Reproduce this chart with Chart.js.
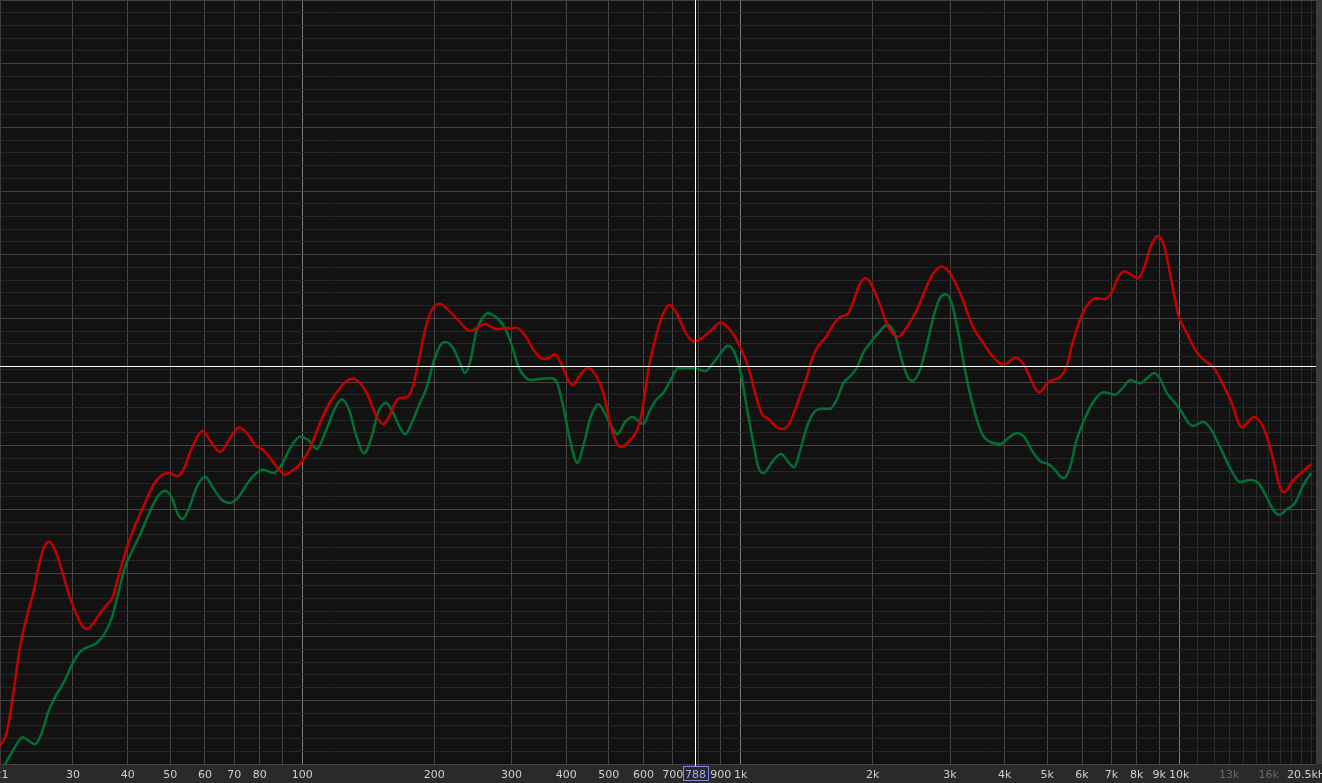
<!DOCTYPE html>
<html lang="en">
<head>
    <meta charset="UTF-8">
    <title>Spectrum</title>
    <script src="https://cdn.jsdelivr.net/npm/chart.js"></script>
    <style>
        html, body {
            margin: 0;
            padding: 0;
            background: #121212;
        }
    </style>
</head>
<body>
<canvas id="spectrum" width="1322" height="783"></canvas>
<script>
    // visible range: frequency (Hz) and level (dB)
    const freqMin = 20.45;
    const freqMax = 20500;
    const dbMin = -120;
    const dbMax = 0;

    // red trace
    const redFreq = [
        20.45, 21.18, 21.93, 22.72, 23.53, 24.36, 25.23, 25.91, 26.50, 27.30,
        28.28, 29.28, 30.59, 31.67, 32.34, 33.38, 34.58, 35.81, 36.96, 38.07,
        39.43, 41.18, 43.41, 45.75, 48.22, 49.94, 51.73, 53.56, 55.97, 59.29,
        62.15, 64.93, 68.43, 71.85, 75.34, 78.04, 81.52, 84.44, 86.69, 91.33,
        95.41, 99.70, 104.1, 108.8, 113.7, 119.8, 126.3, 130.7, 135.4, 140.3,
        146.5, 152.6, 157.1, 162.7, 167.1, 173.1, 178.6, 183.9, 190.5, 197.4,
        206.1, 215.3, 228.9, 241.3, 249.9, 261.0, 277.5, 292.5, 308.3, 323.8,
        339.5, 354.6, 367.3, 377.0, 390.5, 404.3, 413.7, 429.9, 449.0, 469.3,
        485.9, 503.3, 521.3, 535.2, 554.1, 576.9, 594.5, 615.5, 637.5, 660.3,
        687.1, 714.4, 746.3, 779.5, 814.6, 858.5, 897.0, 936.9, 987.2, 1040,
        1078, 1116, 1156, 1208, 1250, 1295, 1342, 1414, 1452, 1490,
        1557, 1626, 1684, 1759, 1822, 1871, 1931, 1989, 2078, 2170,
        2287, 2369, 2519, 2631, 2749, 2872, 3001, 3162, 3391, 3574,
        3766, 3970, 4243, 4448, 4647, 4796, 5028, 5346, 5517, 5733,
        5991, 6257, 6481, 6770, 7012, 7261, 7520, 7788, 8021, 8279,
        8576, 8912, 9197, 9526, 9950, 10399, 10959, 11550, 11956, 12496,
        13168, 13877, 14807, 15546, 16247, 16969, 17357, 18199, 19180, 19970
    ];
    const redDb = [
        -117.2, -115.1, -108.9, -101.6, -96.9, -93.1, -88.0, -85.6, -85.1, -86.4,
        -89.5, -93.1, -96.6, -98.5, -98.8, -97.9, -96.3, -95.0, -93.8, -90.6,
        -86.9, -83.2, -79.6, -76.2, -74.5, -74.3, -74.8, -73.8, -70.4, -67.7,
        -69.6, -71.0, -68.8, -67.1, -68.3, -69.9, -70.7, -71.9, -73.0, -74.5,
        -73.8, -72.6, -70.4, -67.1, -64.1, -61.6, -59.8, -59.5, -60.2, -61.7,
        -64.9, -66.6, -65.7, -63.3, -62.5, -62.4, -60.8, -57.0, -51.8, -48.7,
        -47.7, -48.7, -50.6, -52.0, -51.5, -50.9, -51.7, -51.5, -51.5, -52.9,
        -55.3, -56.4, -56.1, -55.6, -57.3, -59.7, -60.5, -58.9, -57.8, -59.2,
        -61.7, -66.4, -69.6, -70.2, -69.4, -67.9, -64.9, -58.1, -53.4, -49.8,
        -47.9, -49.2, -52.1, -53.6, -53.1, -51.8, -50.7, -51.5, -53.9, -57.6,
        -61.7, -64.9, -65.8, -67.1, -67.4, -66.3, -63.6, -59.2, -56.5, -54.7,
        -53.1, -51.0, -49.8, -49.2, -46.6, -44.5, -43.7, -44.8, -47.9, -51.4,
        -52.9, -51.8, -48.7, -45.6, -42.9, -41.9, -42.9, -46.0, -51.5, -53.9,
        -56.1, -57.3, -56.2, -57.6, -60.5, -61.6, -60.0, -59.2, -57.8, -53.4,
        -49.5, -47.4, -46.8, -47.0, -45.9, -43.5, -42.6, -43.2, -43.7, -42.4,
        -39.0, -37.1, -38.2, -42.9, -49.5, -52.3, -55.3, -56.9, -57.6, -60.0,
        -63.3, -67.1, -65.5, -67.1, -71.2, -76.5, -77.3, -75.4, -74.0, -72.9
    ];

    // green trace
    const greenFreq = [
        20.45, 21.10, 21.93, 23.04, 23.94, 24.58, 25.46, 26.36, 27.30, 28.52,
        29.80, 31.13, 32.52, 33.98, 35.49, 36.76, 38.07, 39.43, 40.83, 42.66,
        44.57, 46.58, 48.64, 50.39, 52.17, 53.39, 54.98, 57.46, 60.01, 62.68,
        65.51, 68.43, 71.47, 75.34, 79.41, 81.52, 85.90, 89.80, 93.78, 98.83,
        103.2, 107.9, 112.7, 117.7, 123.0, 127.4, 133.1, 138.3, 144.0, 149.1,
        155.2, 161.3, 167.1, 171.5, 177.7, 185.5, 192.2, 199.0, 206.1, 212.7,
        221.0, 228.9, 235.0, 241.3, 249.9, 258.8, 264.8, 277.5, 290.0, 300.4,
        311.0, 322.1, 330.6, 348.5, 368.6, 380.4, 393.8, 407.9, 423.8, 439.0,
        454.8, 473.3, 494.7, 512.2, 523.1, 544.5, 565.8, 599.4, 620.9, 643.1,
        666.0, 692.2, 720.4, 752.9, 793.4, 828.7, 865.9, 897.0, 933.9, 961.6,
        996.1, 1032, 1068, 1097, 1126, 1186, 1236, 1284, 1323, 1365,
        1414, 1464, 1530, 1598, 1655, 1713, 1775, 1838, 1903, 1971,
        2060, 2159, 2248, 2328, 2410, 2467, 2563, 2655, 2749, 2847,
        2934, 3028, 3134, 3246, 3391, 3543, 3701, 3915, 4074, 4272,
        4448, 4608, 4813, 5028, 5207, 5346, 5460, 5634, 5835, 6095,
        6368, 6711, 7138, 7456, 7723, 8140, 8503, 8761, 9040, 9364,
        9780, 10130, 10486, 10765, 11309, 11751, 12387, 13054, 13753, 14497,
        15149, 15826, 16387, 16912, 17579, 18365, 19180, 19970
    ];
    const greenDb = [
        -121.6, -119.8, -117.8, -115.8, -116.5, -116.9, -115.1, -111.8, -109.5, -107.3,
        -104.5, -102.4, -101.6, -101.0, -99.4, -97.1, -93.1, -89.1, -86.7, -84.0,
        -80.9, -78.2, -77.1, -78.2, -80.9, -81.5, -80.1, -76.5, -74.9, -76.7,
        -78.5, -79.0, -78.1, -75.7, -74.1, -73.8, -74.3, -73.0, -70.4, -68.6,
        -69.1, -70.5, -68.0, -64.7, -62.7, -64.1, -68.6, -71.2, -68.6, -64.7,
        -63.3, -64.9, -67.2, -68.2, -66.4, -63.3, -60.9, -57.0, -54.3, -53.7,
        -54.7, -57.0, -58.6, -56.9, -51.8, -49.8, -49.2, -49.9, -51.5, -54.2,
        -57.6, -59.2, -59.7, -59.5, -59.4, -60.0, -63.9, -69.1, -72.7, -69.6,
        -65.5, -63.5, -65.5, -67.5, -68.2, -66.3, -65.5, -66.6, -64.4, -62.7,
        -61.7, -59.7, -57.8, -57.8, -57.9, -58.3, -57.0, -55.6, -54.3, -55.0,
        -58.1, -63.9, -69.6, -73.4, -74.3, -72.3, -71.3, -72.6, -73.4, -70.8,
        -67.1, -64.9, -64.2, -64.2, -62.8, -60.2, -59.1, -57.8, -55.4, -53.9,
        -52.3, -51.0, -52.6, -56.5, -59.4, -59.8, -58.1, -54.2, -49.8, -46.8,
        -46.2, -47.6, -52.3, -58.1, -63.9, -68.0, -69.4, -69.7, -68.8, -68.0,
        -68.8, -70.7, -72.4, -72.9, -73.8, -74.8, -75.1, -73.4, -69.1, -65.7,
        -63.1, -61.6, -62.0, -60.8, -59.7, -60.2, -59.2, -58.6, -59.5, -61.7,
        -63.3, -64.7, -66.4, -66.9, -66.3, -67.2, -70.2, -73.5, -75.7, -75.4,
        -75.9, -78.1, -80.1, -80.9, -80.0, -79.0, -76.2, -74.3
    ];

    // vertical grid lines and frequency labels
    const gridFreqs = [30, 40, 50, 60, 70, 80, 90, 100, 200, 300, 400, 500, 600, 700, 800, 900,
        1000, 2000, 3000, 4000, 5000, 6000, 7000, 8000, 9000, 10000,
        11000, 12000, 13000, 14000, 15000, 16000, 17000, 18000, 19000, 20000];
    const decadeFreqs = [100, 1000, 10000];
    const labelFreqs = [20.6, 30, 40, 50, 60, 70, 80, 100, 200, 300, 400, 500, 600, 700, 900,
        1000, 2000, 3000, 4000, 5000, 6000, 7000, 8000, 9000, 10000, 13000, 16000, 19800];
    const labelTexts = ['21', '30', '40', '50', '60', '70', '80', '100', '200', '300', '400', '500', '600', '700', '900',
        '1k', '2k', '3k', '4k', '5k', '6k', '7k', '8k', '9k', '10k', '13k', '16k', '20.5kHz'];
    const dimLabels = ['13k', '16k'];

    // cursor crosshair
    const cursorFreq = 788;
    const cursorDb = -57.5;

    const toPoints = (fs, vs) => fs.map((f, i) => ({x: f, y: vs[i]}));

    const frame = {
        id: 'frame',
        beforeDraw(chart) {
            const {ctx, chartArea: a, width, height} = chart;
            ctx.save();
            ctx.fillStyle = '#121212';
            ctx.fillRect(0, 0, width, height);
            // bottom label bar and right strip
            ctx.fillStyle = '#2a2a2a';
            ctx.fillRect(0, a.bottom, width, height - a.bottom);
            ctx.fillStyle = '#3b3b3b';
            ctx.fillRect(a.right, 0, width - a.right, a.bottom);
            ctx.restore();
        },
        afterDraw(chart) {
            const {ctx, chartArea: a} = chart;
            const xs = chart.scales.x;
            const ys = chart.scales.y;
            ctx.save();

            ctx.font = '11px "DejaVu Sans"';
            ctx.textAlign = 'center';
            ctx.textBaseline = 'alphabetic';
            labelFreqs.forEach((f, i) => {
                ctx.fillStyle = dimLabels.includes(labelTexts[i]) ? '#6a6a6a' : '#cfcfcf';
                ctx.fillText(labelTexts[i], xs.getPixelForValue(f), a.bottom + 14);
            });

            const cx = Math.round(xs.getPixelForValue(cursorFreq)) + 0.5;
            const cy = Math.round(ys.getPixelForValue(cursorDb)) + 0.5;
            ctx.strokeStyle = '#ffffff';
            ctx.lineWidth = 1;
            ctx.beginPath();
            ctx.moveTo(a.left, cy);
            ctx.lineTo(a.right, cy);
            ctx.moveTo(cx, a.top);
            ctx.lineTo(cx, a.bottom + 3);
            ctx.stroke();

            // readout box under the cursor
            const bw = 25, bh = 14;
            const bx = Math.round(cx - bw / 2) + 0.5;
            const by = a.bottom + 2.5;
            ctx.fillStyle = '#2a2a2a';
            ctx.fillRect(bx, by, bw, bh);
            ctx.strokeStyle = '#8585dd';
            ctx.strokeRect(bx, by, bw, bh);
            ctx.fillStyle = '#a8a8ff';
            ctx.fillText(String(cursorFreq), cx, a.bottom + 14);
            ctx.restore();
        }
    };

    new Chart(document.getElementById('spectrum'), {
        type: 'line',
        data: {
            datasets: [{
                data: toPoints(redFreq, redDb),
                borderColor: '#c60000',
                borderWidth: 2.5,
                pointRadius: 0,
                cubicInterpolationMode: 'monotone',
                clip: 0
            }, {
                data: toPoints(greenFreq, greenDb),
                borderColor: '#007035',
                borderWidth: 2.5,
                pointRadius: 0,
                cubicInterpolationMode: 'monotone',
                clip: 0
            }]
        },
        options: {
            responsive: false,
            animation: false,
            devicePixelRatio: 1,
            events: [],
            layout: {padding: {left: 0, top: 0, right: 6, bottom: 0}},
            plugins: {
                legend: {display: false},
                tooltip: {enabled: false}
            },
            scales: {
                x: {
                    type: 'logarithmic',
                    min: freqMin,
                    max: freqMax,
                    afterBuildTicks: s => { s.ticks = gridFreqs.map(v => ({value: v})); },
                    afterFit: s => { s.height = 19; },
                    ticks: {display: false},
                    border: {display: false},
                    grid: {
                        drawTicks: false,
                        lineWidth: 1,
                        color: c => {
                            const v = c.tick ? c.tick.value : 0;
                            if (decadeFreqs.includes(v)) return '#7c7c7c';
                            if (v > 10000) return '#2c2c2c';
                            return '#454545';
                        }
                    }
                },
                y: {
                    type: 'linear',
                    min: dbMin,
                    max: dbMax,
                    afterFit: s => { s.width = 0; },
                    ticks: {display: false, stepSize: 2, maxTicksLimit: 100},
                    border: {display: true, color: '#3c3c3c'},
                    grid: {
                        drawTicks: false,
                        lineWidth: 1,
                        color: c => (c.tick && c.tick.value % 10 === 0) ? '#444444' : '#262626'
                    }
                }
            }
        },
        plugins: [frame]
    });
</script>
</body>
</html>
